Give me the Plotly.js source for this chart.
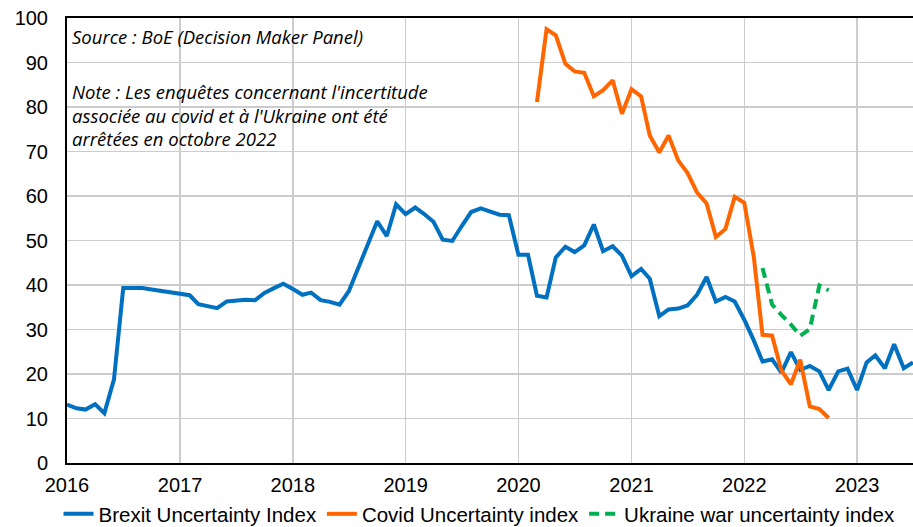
<!DOCTYPE html>
<html>
<head>
<meta charset="utf-8">
<script src="https://cdn.plot.ly/plotly-3.0.1.min.js"></script>
<style>html,body{margin:0;padding:0;background:#fff;}#chart{width:913px;height:527px;}</style>
</head>
<body>
<div id="chart"></div>
<script>
function months(startY, startM, n) {
  var out = [];
  for (var i = 0; i < n; i++) {
    var m = startM - 1 + i;
    var y = startY + Math.floor(m / 12);
    var mm = (m % 12) + 1;
    out.push(y + '-' + (mm < 10 ? '0' + mm : mm) + '-01');
  }
  return out;
}

var brexitValues = [
  13.1, 12.3, 12.0, 13.2, 11.2, 18.8, 39.3, 39.3, 39.3, 39.0, 38.7, 38.3,
  38.0, 37.7, 35.7, 35.2, 34.8, 36.3, 36.5, 36.7, 36.6, 38.2, 39.3, 40.3,
  39.1, 37.8, 38.3, 36.6, 36.2, 35.6, 38.6, 43.8, 49.0, 54.3, 51.0, 58.1,
  55.9, 57.4, 56.0, 54.2, 50.2, 49.9, 53.2, 56.4, 57.2, 56.4, 55.8, 55.7,
  46.8, 46.8, 37.6, 37.2, 46.2, 48.6, 47.4, 48.9, 53.6, 47.6, 48.7, 46.6,
  42.0, 43.6, 41.4, 33.0, 34.5, 34.7, 35.4, 37.8, 41.8, 36.3, 37.3, 36.3,
  32.2, 27.5, 22.8, 23.3, 20.3, 24.9, 20.9, 21.8, 20.6, 16.4, 20.6, 21.2,
  16.4, 22.6, 24.2, 21.3, 26.7, 21.3, 22.6
];
var covidValues = [
  81.1, 97.5, 96.1, 89.7, 88.0, 87.7, 82.4, 83.8, 86.0, 78.5,
  84.0, 82.4, 73.6, 69.8, 73.6, 68.0, 65.2, 60.8, 58.3, 50.8, 52.6, 59.8,
  58.5, 46.2, 28.8, 28.6, 20.8, 17.7, 23.2, 12.7, 12.1, 10.1
];
var ukraineValues = [43.8, 35.6, 33.3, 31.1, 28.6, 30.1, 39.9, 38.8];

var brexitDates = months(2016, 1, brexitValues.length);
var covidDates = months(2020, 3, covidValues.length);
var ukraineDates = months(2022, 3, ukraineValues.length);

var seriesNames = ['Brexit Uncertainty Index', 'Covid Uncertainty index', 'Ukraine war uncertainty index'];
var yTicks = [0, 10, 20, 30, 40, 50, 60, 70, 80, 90, 100];
var xTicks = ['2016-01-01','2017-01-01','2018-01-01','2019-01-01','2020-01-01','2021-01-01','2022-01-01','2023-01-01'];
var xTickLabels = ['2016','2017','2018','2019','2020','2021','2022','2023'];

var noteLines = [
  'Source : BoE (Decision Maker Panel)',
  'Note : Les enquêtes concernant l\'incertitude',
  'associée au covid et à l\'Ukraine ont été',
  'arrêtées en octobre 2022'
];
var noteY = [0.958, 0.834, 0.781, 0.729];

var traces = [
  {x: brexitDates, y: brexitValues, name: seriesNames[0], type: 'scatter', mode: 'lines',
   line: {color: '#0070C0', width: 4}},
  {x: covidDates, y: covidValues, name: seriesNames[1], type: 'scatter', mode: 'lines',
   line: {color: '#FF6600', width: 4}},
  {x: ukraineDates, y: ukraineValues, name: seriesNames[2], type: 'scatter', mode: 'lines',
   line: {color: '#00B050', width: 4, dash: '10px,6px'}}
];

var annotations = noteLines.map(function (t, i) {
  return {
    text: t, xref: 'paper', yref: 'paper', x: 0.004, y: noteY[i],
    xanchor: 'left', yanchor: 'middle', showarrow: false,
    font: {family: '"Open Sans", Lato, sans-serif', size: 18.5, color: '#000', style: 'italic'}
  };
});

var layout = {
  width: 913, height: 527,
  margin: {l: 67, r: 0, t: 18, b: 64, autoexpand: false},
  paper_bgcolor: '#fff', plot_bgcolor: '#fff',
  font: {family: 'Liberation Sans, Arial, sans-serif', size: 20, color: '#000'},
  showlegend: true,
  legend: {orientation: 'h', x: 0.4876, xanchor: 'center', y: -0.1146, yanchor: 'middle',
           font: {size: 20.5, color: '#000'}, traceorder: 'normal', itemwidth: 30},
  xaxis: {
    type: 'date', range: ['2016-01-01', '2023-07-01'],
    tickvals: xTicks, ticktext: xTickLabels,
    showgrid: true, gridcolor: '#cccccc', gridwidth: 1.5,
    showline: true, linecolor: '#000', linewidth: 2, mirror: true,
    ticks: '', ticklabelstandoff: 3, tickfont: {size: 20}
  },
  yaxis: {
    range: [0, 100], tickvals: yTicks,
    showgrid: true, gridcolor: '#cccccc', gridwidth: 1.5, zeroline: false,
    showline: true, linecolor: '#000', linewidth: 2,
    ticks: '', ticklabelstandoff: 13, tickfont: {size: 20}
  },
  annotations: annotations
};

Plotly.newPlot('chart', traces, layout, {displayModeBar: false, staticPlot: true});
</script>
</body>
</html>
